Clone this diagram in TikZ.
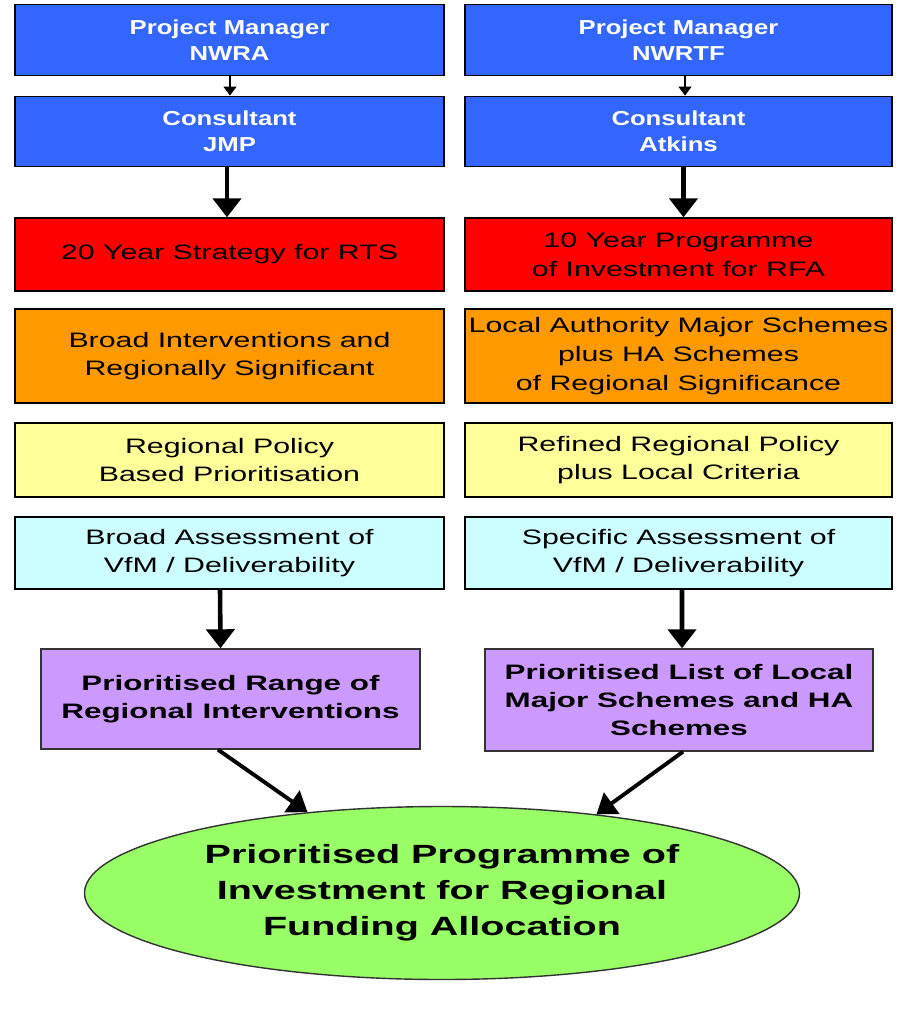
\documentclass[tikz,border=0pt]{standalone}
\usepackage{fontspec}
\setmainfont{Liberation Sans}
\newfontfamily\bluefont[FakeStretch=1.27]{Liberation Sans}
\newfontfamily\widefont[FakeStretch=1.45]{Liberation Sans}
\newfontfamily\widerfont[FakeStretch=1.5]{Liberation Sans}
\usetikzlibrary{arrows.meta,shapes.geometric}
\definecolor{pmblue}{HTML}{3366FF}
\definecolor{stratred}{HTML}{FF0000}
\definecolor{schemeorange}{HTML}{FF9900}
\definecolor{policyyellow}{HTML}{FFFF99}
\definecolor{vfmcyan}{HTML}{CCFFFF}
\definecolor{listpurple}{HTML}{CC99FF}
\definecolor{progreen}{HTML}{99FF66}
\begin{document}
\begin{tikzpicture}[
  block/.style={draw=black,line width=0.8pt,align=center,inner sep=0pt},
  manager/.style={block,fill=pmblue,text=white,font=\bluefont\fontsize{11.5}{14.7}\selectfont\bfseries,minimum height=1.41cm},
  plain/.style={block,font=\widefont\fontsize{11.9}{16.4}\selectfont},
  result/.style={block,draw=black!80,fill=listpurple,font=\widerfont\fontsize{11.9}{15.9}\selectfont\bfseries},
  thinarrow/.style={line width=0.8pt,-{Stealth[inset=0pt,length=0.18cm,width=0.26cm]}},
  bigarrow/.style={line width=2.6pt,-{Stealth[inset=0pt,length=0.38cm,width=0.56cm]}},
  slantarrow/.style={line width=2.2pt,-{Stealth[inset=0pt,length=0.38cm,width=0.52cm]}}]
\useasboundingbox (0,0) rectangle (18.06,-20.7);
\node[manager,minimum width=8.58cm] (pmL) at (4.59,-0.8) {Project Manager\\NWRA};
\node[manager,minimum width=8.54cm] (pmR) at (13.57,-0.8) {Project Manager\\NWRTF};
\node[manager,minimum width=8.58cm] (conL) at (4.59,-2.63) {Consultant\\JMP};
\node[manager,minimum width=8.54cm] (conR) at (13.57,-2.63) {Consultant\\Atkins};
\node[plain,fill=stratred,minimum width=8.58cm,minimum height=1.46cm] (stratL) at (4.59,-5.09) {20 Year Strategy for RTS};
\node[plain,fill=stratred,minimum width=8.54cm,minimum height=1.46cm] (stratR) at (13.57,-5.09) {10 Year Programme\\of Investment for RFA};
\node[plain,fill=schemeorange,minimum width=8.58cm,minimum height=1.88cm] (schL) at (4.59,-7.12) {Broad Interventions and\\Regionally Significant};
\node[plain,fill=schemeorange,minimum width=8.54cm,minimum height=1.88cm] (schR) at (13.57,-7.12) {Local Authority Major Schemes\\plus HA Schemes\\of Regional Significance};
\node[plain,fill=policyyellow,minimum width=8.58cm,minimum height=1.48cm] (polL) at (4.59,-9.2) {Regional Policy\\Based Prioritisation};
\node[plain,fill=policyyellow,minimum width=8.54cm,minimum height=1.48cm] (polR) at (13.57,-9.2) {Refined Regional Policy\\plus Local Criteria};
\node[plain,fill=vfmcyan,minimum width=8.58cm,minimum height=1.44cm] (vfmL) at (4.59,-11.06) {Broad Assessment of\\VfM / Deliverability};
\node[plain,fill=vfmcyan,minimum width=8.54cm,minimum height=1.44cm] (vfmR) at (13.57,-11.06) {Specific Assessment of\\VfM / Deliverability};
\node[result,minimum width=7.58cm,minimum height=2.0cm] (listL) at (4.61,-13.98) {Prioritised Range of\\Regional Interventions};
\node[result,minimum width=7.76cm,minimum height=2.04cm] (listR) at (13.58,-14.0) {Prioritised List of Local\\Major Schemes and HA\\Schemes};
\node[ellipse,draw=black!80,line width=0.8pt,fill=progreen,inner sep=0pt,minimum width=14.3cm,minimum height=3.46cm,align=center,font=\widerfont\fontsize{15}{20.4}\selectfont\bfseries] (prog) at (8.84,-17.86) {Prioritised Programme of\\Investment for Regional\\Funding Allocation};
\draw[thinarrow] ([xshift=0.01cm]pmL.south) -- ([xshift=0.01cm]conL.north);
\draw[thinarrow] ([xshift=0.13cm]pmR.south) -- ([xshift=0.13cm]conR.north);
\draw[bigarrow] ([xshift=-0.05cm]conL.south) -- ([xshift=-0.05cm]stratL.north);
\draw[bigarrow] ([xshift=0.1cm]conR.south) -- ([xshift=0.1cm]stratR.north);
\draw[bigarrow] ([xshift=-0.19cm]vfmL.south) -- ([xshift=-0.2cm]listL.north);
\draw[bigarrow] ([xshift=0.07cm]vfmR.south) -- ([xshift=0.06cm]listR.north);
\draw[slantarrow] ([xshift=-0.25cm]listL.south) -- (prog.149);
\draw[slantarrow] ([xshift=0.08cm]listR.south) -- (prog.27);
\end{tikzpicture}
\end{document}
